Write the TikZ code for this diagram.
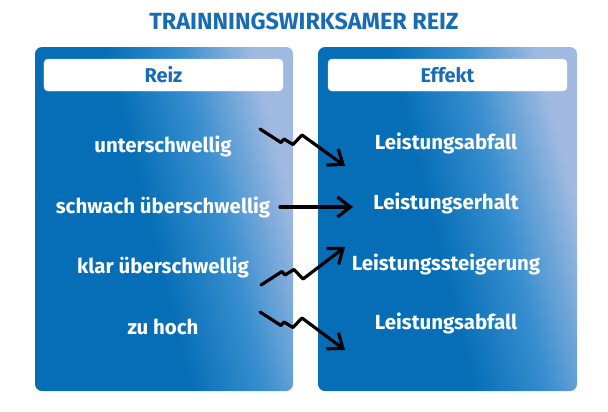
\documentclass[tikz,border=0pt]{standalone}
\usepackage{fontspec}
\setmainfont{Fira Sans}
\usetikzlibrary{arrows.meta,positioning}
\definecolor{bdark}{RGB}{6,110,182}
\definecolor{bmid}{RGB}{55,142,207}
\definecolor{blight}{RGB}{160,185,225}
\definecolor{titel}{RGB}{24,108,180}
\pgfdeclarehorizontalshading{boxshade}{100bp}{color(0bp)=(bdark); color(47bp)=(bdark); color(60bp)=(bmid); color(73bp)=(blight); color(100bp)=(blight)}
\tikzstyle{feld}=[shading=boxshade,shading angle=14,rounded corners=7bp]
\tikzstyle{kopf}=[fill=white,draw=blue!10,rounded corners=4bp,minimum width=239bp,minimum height=32bp,inner sep=0pt,text=titel,font=\bfseries\fontsize{20}{24}\selectfont]
\tikzstyle{eintrag}=[text=white,inner sep=1pt,font=\bfseries\fontsize{20.5}{24}\selectfont]
\tikzstyle{pfeil}=[line width=3.2bp,line join=round,line cap=round,-{Straight Barb[length=13bp,width=20bp,line width=3.2bp]}]
\newcommand{\blitz}[3]{
  \draw[pfeil] (#1) -- ++(21,{#3*13.5}) -- ++(3,{#3*-3.5}) -- ++(9,{#3*5.5}) -- ++(9,{#3*-9.5}) -- (#2);
}

\begin{document}
\begin{tikzpicture}[x=1bp,y=-1bp]
\useasboundingbox (0,0) rectangle (608,411);

% Titel
\node[text=titel,font=\bfseries\fontsize{23.5}{28}\selectfont] (titel) at (304,21) {TRAINNINGSWIRKSAMER REIZ};

% Felder
\shade[feld] (35,47) rectangle (293,391);
\shade[feld] (318,47) rectangle (577,391);

\node[kopf] (reiz) at (163.5,75) {Reiz};
\node[kopf] (effekt) at (447.5,75) {Effekt};

% Reize
\node[eintrag] (r1) at (163,146) {unterschwellig};
\node[eintrag] (r2) at (163,207) {schwach überschwellig};
\node[eintrag] (r3) at (163,267) {klar überschwellig};
\node[eintrag] (r4) at (163,327) {zu hoch};

% Effekte
\node[eintrag] (e1) at (446,143) {Leistungsabfall};
\node[eintrag] (e2) at (446,203) {Leistungserhalt};
\node[eintrag] (e3) at (446,264) {Leistungssteigerung};
\node[eintrag] (e4) at (446,323) {Leistungsabfall};

% Pfeile
\coordinate (s1) at (260,129);
\coordinate (t1) at (345,166);
\coordinate (s2) at (280,207);
\coordinate (t2) at (353,207);
\coordinate (s3) at (261,285);
\coordinate (t3) at (345,247);
\coordinate (s4) at (260,312);
\coordinate (t4) at (345,350);

\blitz{s1}{t1}{1}
\draw[pfeil] (s2) -- (t2);
\blitz{s3}{t3}{-1}
\blitz{s4}{t4}{1}

\end{tikzpicture}
\end{document}
